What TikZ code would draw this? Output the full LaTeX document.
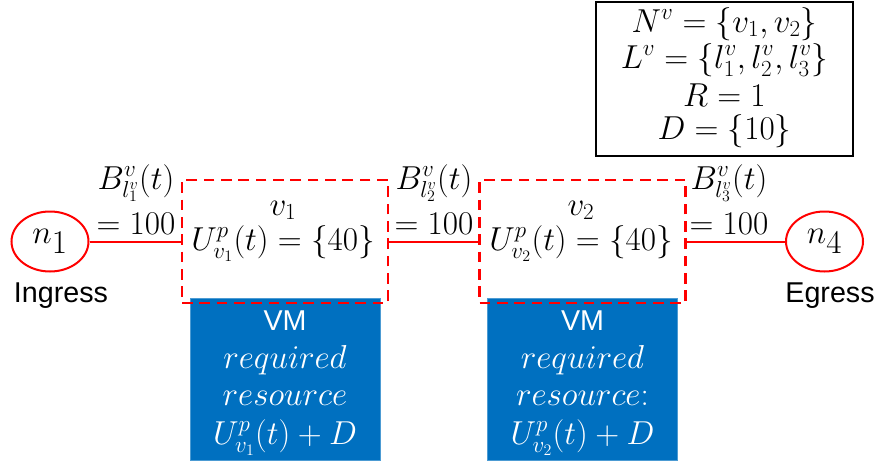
\documentclass[tikz,border=0pt]{standalone}
\usepackage{fontspec}
\newfontfamily\arial{Liberation Sans}
\usetikzlibrary{shapes.geometric}
\definecolor{vmblue}{HTML}{0070C0}
\definecolor{lred}{HTML}{FF0000}
\begin{document}
\begin{tikzpicture}[x=0.75pt,y=-0.75pt,
  mtext/.style={font=\fontsize{23}{26}\selectfont, inner sep=0pt, anchor=base},
  vtext/.style={font=\fontsize{24}{26}\selectfont, inner sep=0pt, anchor=base, text=white},
  stext/.style={font=\arial\fontsize{21.5}{24}\selectfont, inner sep=0pt, anchor=base},
  endnode/.style={draw=lred, line width=1.5pt, ellipse, minimum width=57.75pt, minimum height=45pt, inner sep=0pt, font=\fontsize{34}{36}\selectfont},
  vnfbox/.style={draw=lred, dash pattern=on 8pt off 5pt, line width=1.8pt, minimum width=154.5pt, minimum height=92.25pt, inner sep=0pt},
  vmbox/.style={fill=vmblue, draw=vmblue!70!white, line width=0.5pt, minimum width=142.5pt, minimum height=121.5pt, inner sep=0pt},
  link/.style={draw=lred, line width=1.5pt},
  legendbox/.style={draw=black, line width=1.5pt, minimum width=192.75pt, minimum height=115.5pt, inner sep=0pt}]
\useasboundingbox (0,0) rectangle (883,464);

% legend
\node[legendbox] (legend) at (724.5,79) {};
\node[mtext] (lg1) at (724.5,32) {$N^{v}=\{v_1,v_2\}$};
\node[mtext] (lg2) at (724.5,68) {$L^{v}=\{l^v_1,l^v_2,l^v_3\}$};
\node[mtext] (lg3) at (724.5,106) {$R=1$};
\node[mtext] (lg4) at (724.5,139) {$D=\{10\}$};

% VM boxes
\node[vmbox] (vm1) at (285,379) {};
\node[vmbox] (vm2) at (582.5,379) {};
\node[stext, text=white] (vm1a) at (285,330) {VM};
\node[vtext] (vm1b) at (285,368) {$required$};
\node[vtext] (vm1c) at (285,405) {$resource$};
\node[vtext] (vm1d) at (285,444) {$U^{p}_{v_1}(t)+D$};
\node[stext, text=white] (vm2a) at (582.5,330) {VM};
\node[vtext] (vm2b) at (582.5,368) {$required$};
\node[vtext] (vm2c) at (582.5,405) {$resource\colon$};
\node[vtext] (vm2d) at (582.5,444) {$U^{p}_{v_2}(t)+D$};

% VNF boxes
\node[vnfbox] (v1box) at (285,241.5) {};
\node[vnfbox] (v2box) at (582.5,241.5) {};
\node[mtext] (v1lab) at (283,215) {$v_1$};
\node[mtext] (v1u) at (283,250) {$U^{p}_{v_1}(t)=\{40\}$};
\node[mtext] (v2lab) at (581,215) {$v_2$};
\node[mtext] (v2u) at (581,250) {$U^{p}_{v_2}(t)=\{40\}$};

% end nodes
\node[endnode] (n1) at (50,241.5) {$n_1$};
\node[endnode] (n4) at (824.5,241.5) {$n_4$};
\node[stext] (ing) at (61,302) {Ingress};
\node[stext] (eg) at (830,302) {Egress};

% links
\draw[link] (n1) -- (v1box);
\draw[link] (v1box) -- (v2box);
\draw[link] (v2box) -- (n4);

% bandwidth labels
\node[mtext] (b1) at (136,189) {$B^{v}_{l^v_1}(t)$};
\node[mtext] (b1v) at (136,234) {$=100$};
\node[mtext] (b2) at (434,189) {$B^{v}_{l^v_2}(t)$};
\node[mtext] (b2v) at (434,234) {$=100$};
\node[mtext] (b3) at (729,189) {$B^{v}_{l^v_3}(t)$};
\node[mtext] (b3v) at (729,234) {$=100$};
\end{tikzpicture}
\end{document}
